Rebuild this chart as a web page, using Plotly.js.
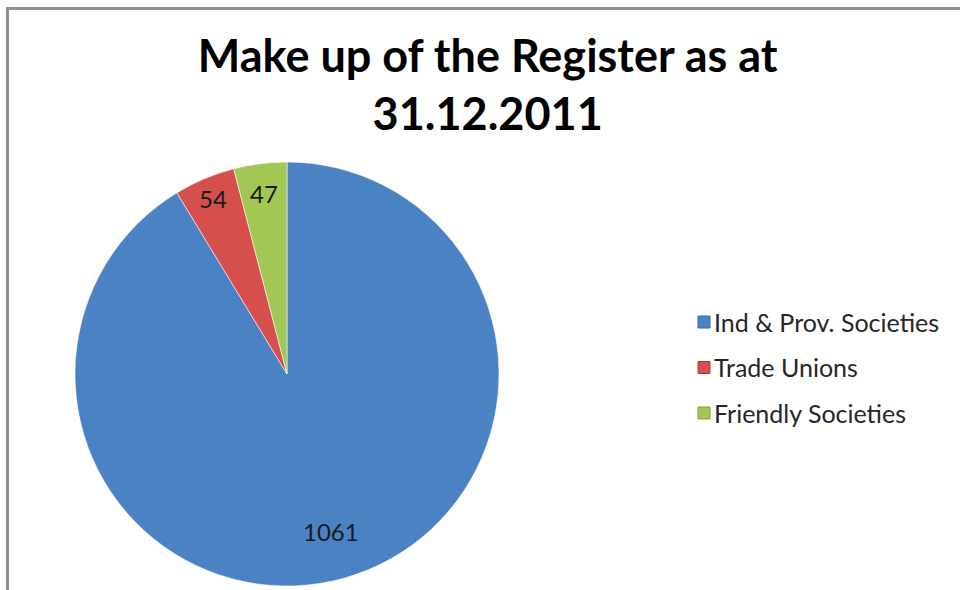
<!DOCTYPE html>
<html>
<head>
<meta charset="utf-8">
<script src="https://cdn.plot.ly/plotly-3.0.1.min.js"></script>
<style>
  html, body { margin: 0; padding: 0; background: #fff; }
  #chart { width: 960px; height: 590px; position: relative; }
  #frame { position: absolute; left: 6px; top: 7px; width: 2000px; height: 2000px;
           border-left: 3px solid #909090; border-top: 3px solid #909090; pointer-events: none; }
</style>
</head>
<body>
<div id="chart"></div>
<div id="frame"></div>
<script>
const categories = ["Ind & Prov. Societies", "Trade Unions", "Friendly Societies"];
const counts = [1061, 54, 47];
const sliceColors = ["#4a82c3", "#d5504d", "#a3c754"];
const edgeColors = ["#3a6aa3", "#a83c3a", "#7f9d3e"];

const FONT = "Lato, 'Open Sans', sans-serif";
const W = 960, H = 590;

// pie geometry (pixels)
const CX = 287, CY = 374, R = 212;
const labelRadius = [0.77, 0.9, 0.86];

const trace = {
  type: "pie",
  labels: categories,
  values: counts,
  sort: false,
  direction: "clockwise",
  rotation: 0,
  textinfo: "none",
  marker: { colors: sliceColors, line: { color: "rgba(255,255,255,0.55)", width: 1 } },
  domain: { x: [(CX - R) / W, (CX + R) / W], y: [1 - (CY + R) / H, 1 - (CY - R) / H] },
  showlegend: false,
  hoverinfo: "label+value"
};

// value labels at each slice's mid-angle (computed from the data)
const total = counts.reduce((a, b) => a + b, 0);
let cum = 0;
const valueLabels = counts.map((v, i) => {
  const mid = (cum + v / 2) / total * 2 * Math.PI;
  cum += v;
  const r = R * labelRadius[i];
  return {
    xref: "paper", yref: "paper",
    x: (CX + r * Math.sin(mid)) / W,
    y: 1 - (CY - r * Math.cos(mid)) / H,
    xanchor: "center", yanchor: "middle",
    text: String(v), showarrow: false,
    font: { family: FONT, size: 24, color: "#1a1a1a" }
  };
});

// legend built from the category / colour arrays
const legY0 = 1 - 322 / H, legStep = 45.5 / H;
const legendText = categories.map((c, i) => ({
  xref: "paper", yref: "paper",
  x: 712 / W, y: legY0 - i * legStep,
  xanchor: "left", yanchor: "middle",
  text: c, showarrow: false,
  font: { family: FONT, size: 25, color: "#262626" }
}));
const shapes = categories.map((c, i) => ({
  type: "rect", xref: "paper", yref: "paper",
  x0: 698 / W, x1: 710 / W,
  y0: legY0 - i * legStep - 6 / H, y1: legY0 - i * legStep + 6 / H,
  fillcolor: sliceColors[i], line: { color: edgeColors[i], width: 1 }
}));

const layout = {
  width: W,
  height: H,
  margin: { l: 0, r: 0, t: 0, b: 0 },
  paper_bgcolor: "#ffffff",
  title: {
    text: "<b>Make up of the Register as at<br>31.12.2011</b>",
    font: { family: FONT, size: 45, color: "#000000" },
    x: 0.508,
    xanchor: "center",
    y: 0.878,
    yanchor: "middle"
  },
  showlegend: false,
  annotations: valueLabels.concat(legendText),
  shapes: shapes
};

Plotly.newPlot("chart", [trace], layout, { displayModeBar: false, staticPlot: true });
</script>
</body>
</html>
